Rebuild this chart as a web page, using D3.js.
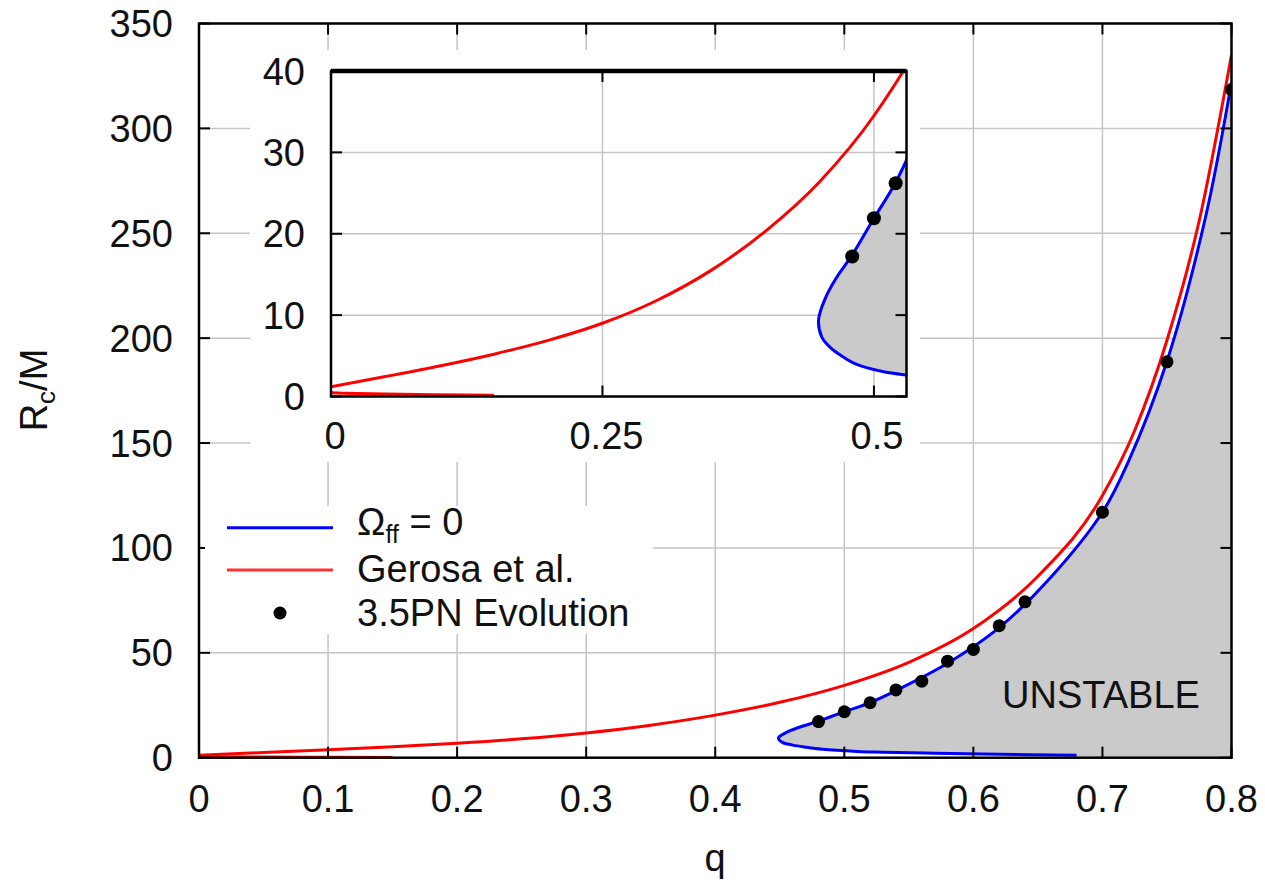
<!DOCTYPE html>
<html>
<head>
<meta charset="utf-8">
<script src="https://cdn.jsdelivr.net/npm/d3@7"></script>
<style>
  body { margin: 0; background: #fff; }
  text { font-family: "Liberation Sans", Arial, sans-serif; fill: #111; }
</style>
</head>
<body>
<div id="canvas"></div>
<script>
"use strict"

// Gerosa et al. curve
let gerosaQ = [0, 0.05, 0.1, 0.15, 0.2, 0.25, 0.3, 0.35, 0.4, 0.45, 0.5, 0.55, 0.6, 0.65, 0.7, 0.725, 0.75, 0.775, 0.8]
let gerosaR = [1.2, 2.45, 3.75, 5.2, 6.9, 9.0, 11.8, 15.5, 20.3, 26.4, 34.5, 45.5, 61.6, 86.5, 125, 156, 199, 256, 335]
// small lower branch of the Gerosa curve seen near zero
let gerosaLowQ = [0, 0.05, 0.1, 0.15]
let gerosaLowR = [0.45, 0.3, 0.2, 0.15]
// Omega_ff = 0 curve (upper branch, nose, lower branch)
let omegaQ = [0.8, 0.78, 0.75, 0.72, 0.7, 0.66, 0.62, 0.58, 0.54, 0.52, 0.5, 0.48, 0.465, 0.455, 0.449, 0.452, 0.46, 0.47, 0.483, 0.51, 0.53, 0.57, 0.62, 0.68]
let omegaR = [322, 258, 189, 141, 117, 86, 62, 45, 32, 26.3, 21.9, 17.4, 14.5, 12, 9.4, 7.3, 6, 5, 4, 3, 2.65, 2.1, 1.6, 1.2]
// 3.5PN evolution points
let pnQ = [0.48, 0.5, 0.52, 0.54, 0.56, 0.58, 0.6, 0.62, 0.64, 0.7, 0.75, 0.8]
let pnR = [17.2, 21.9, 26.2, 32.3, 36.5, 46, 51.6, 62.9, 74.3, 117, 188.7, 318.5]

let xTicks = [0, 0.1, 0.2, 0.3, 0.4, 0.5, 0.6, 0.7, 0.8]
let yTicks = [0, 50, 100, 150, 200, 250, 300, 350]
let insetXTicks = [0, 0.25, 0.5]
let insetYTicks = [0, 10, 20, 30, 40]

let svgWidth = 1265
let svgHeight = 882

let drawing = d3.select("#canvas")
    .append("svg")
    .attr("width", svgWidth)
    .attr("height", svgHeight)

drawing.append("rect")
    .attr("width", svgWidth)
    .attr("height", svgHeight)
    .attr("fill", "white")

let x = d3.scaleLinear().domain([0, 0.8]).range([199, 1231.5])
let y = d3.scaleLinear().domain([0, 350]).range([757.7, 23.5])
let ix = d3.scaleLinear().domain([0, 0.53]).range([331, 906.5])
let iy = d3.scaleLinear().domain([0, 40]).range([396.5, 71])

let gerosa = gerosaQ.map((q, i) => [q, gerosaR[i]])
let gerosaLow = gerosaLowQ.map((q, i) => [q, gerosaLowR[i]])
let omega = omegaQ.map((q, i) => [q, omegaR[i]])
let pn = pnQ.map((q, i) => [q, pnR[i]])

let defs = drawing.append("defs")
defs.append("clipPath").attr("id", "mainClip")
    .append("rect")
    .attr("x", x(0)).attr("y", y(350))
    .attr("width", x(0.8) - x(0)).attr("height", y(0) - y(350))
defs.append("clipPath").attr("id", "insetClip")
    .append("rect")
    .attr("x", ix(0)).attr("y", iy(40))
    .attr("width", ix(0.53) - ix(0)).attr("height", iy(0) - iy(40))

function drawPanel(g, sx, sy, xt, yt, clipId, dotR) {
    let x0 = sx.range()[0], x1 = sx.range()[1]
    let y0 = sy.range()[0], y1 = sy.range()[1]
    // grid
    g.selectAll(".vgrid").data(xt).join("line")
        .attr("x1", d => sx(d)).attr("x2", d => sx(d))
        .attr("y1", y0).attr("y2", y1)
        .attr("stroke", "#c4c4c4").attr("stroke-width", 1.5)
    g.selectAll(".hgrid").data(yt).join("line")
        .attr("class", "hgrid")
        .attr("x1", x0).attr("x2", x1)
        .attr("y1", d => sy(d)).attr("y2", d => sy(d))
        .attr("stroke", "#c4c4c4").attr("stroke-width", 1.5)

    let plot = g.append("g").attr("clip-path", `url(#${clipId})`)
    let smooth = d3.line().x(d => sx(d[0])).y(d => sy(d[1])).curve(d3.curveCatmullRom)
    let mono = d3.line().x(d => sx(d[0])).y(d => sy(d[1])).curve(d3.curveMonotoneX)

    // unstable region: inside the omega curve, closed along the bottom to the right edge
    let last = omega[omega.length - 1]
    plot.append("path")
        .attr("d", smooth(omega) + "L" + sx(last[0]) + "," + sy(0) + "L" + sx(0.8) + "," + sy(0) + "Z")
        .attr("fill", "#cacaca")
        .attr("stroke", "none")

    plot.append("path")
        .attr("d", mono(gerosaLow))
        .attr("fill", "none").attr("stroke", "#ff0000").attr("stroke-width", 3)

    plot.append("path")
        .attr("d", mono(gerosa))
        .attr("fill", "none").attr("stroke", "#ff0000").attr("stroke-width", 3)

    plot.append("path")
        .attr("d", smooth(omega))
        .attr("fill", "none").attr("stroke", "#0000ff").attr("stroke-width", 3)

    plot.selectAll("circle").data(pn).join("circle")
        .attr("cx", d => sx(d[0])).attr("cy", d => sy(d[1]))
        .attr("r", dotR).attr("fill", "black")

    // mirrored inward ticks
    let tl = 11
    xt.forEach(d => {
        g.append("line").attr("x1", sx(d)).attr("x2", sx(d)).attr("y1", y0).attr("y2", y0 - tl)
            .attr("stroke", "black").attr("stroke-width", 2)
        g.append("line").attr("x1", sx(d)).attr("x2", sx(d)).attr("y1", y1).attr("y2", y1 + tl)
            .attr("stroke", "black").attr("stroke-width", 2)
    })
    yt.forEach(d => {
        g.append("line").attr("x1", x0).attr("x2", x0 + tl).attr("y1", sy(d)).attr("y2", sy(d))
            .attr("stroke", "black").attr("stroke-width", 2)
        g.append("line").attr("x1", x1).attr("x2", x1 - tl).attr("y1", sy(d)).attr("y2", sy(d))
            .attr("stroke", "black").attr("stroke-width", 2)
    })

    g.append("rect")
        .attr("x", x0).attr("y", y1)
        .attr("width", x1 - x0).attr("height", y0 - y1)
        .attr("fill", "none").attr("stroke", "black").attr("stroke-width", 2.5)
}

// main panel
let mainG = drawing.append("g")
drawPanel(mainG, x, y, xTicks, yTicks, "mainClip", 6.5)

mainG.append("text")
    .attr("x", 1101).attr("y", 708)
    .attr("text-anchor", "middle")
    .attr("font-size", 38)
    .text("UNSTABLE")

mainG.selectAll(".xlab").data(xTicks).join("text")
    .attr("x", d => x(d)).attr("y", 812)
    .attr("text-anchor", "middle").attr("font-size", 38)
    .text(d => d3.format("")(d))
mainG.selectAll(".ylab").data(yTicks).join("text")
    .attr("class", "ylab")
    .attr("x", 173).attr("y", d => y(d) + 13.5)
    .attr("text-anchor", "end").attr("font-size", 38)
    .text(d => d)

drawing.append("text")
    .attr("x", 715).attr("y", 871)
    .attr("text-anchor", "middle").attr("font-size", 38)
    .text("q")

let yLabel = drawing.append("text")
    .attr("transform", "translate(47,390) rotate(-90)")
    .attr("text-anchor", "middle").attr("font-size", 38)
yLabel.append("tspan").text("R")
yLabel.append("tspan").attr("font-size", 26).attr("dy", 8).text("c")
yLabel.append("tspan").attr("dy", -8).text("/M")

// inset panel
let insetG = drawing.append("g")
insetG.append("rect")
    .attr("x", 250).attr("y", 50)
    .attr("width", 670).attr("height", 412)
    .attr("fill", "white")
drawPanel(insetG, ix, iy, insetXTicks, insetYTicks, "insetClip", 7)
insetG.append("line")
    .attr("x1", ix(0)).attr("x2", ix(0.53))
    .attr("y1", iy(40)).attr("y2", iy(40))
    .attr("stroke", "black").attr("stroke-width", 4.5)

insetG.selectAll(".ixlab").data(insetXTicks).join("text")
    .attr("x", d => ix(d) + (d === 0.5 ? 3 : 4)).attr("y", 449)
    .attr("text-anchor", "middle").attr("font-size", 38)
    .text(d => d3.format("")(d))
insetG.selectAll(".iylab").data(insetYTicks).join("text")
    .attr("class", "iylab")
    .attr("x", 305).attr("y", d => iy(d) + 13.5)
    .attr("text-anchor", "end").attr("font-size", 38)
    .text(d => d)

// legend
let legend = drawing.append("g")
legend.append("rect")
    .attr("x", 205).attr("y", 506)
    .attr("width", 448).attr("height", 128)
    .attr("fill", "white")
legend.append("line")
    .attr("x1", 227).attr("x2", 333).attr("y1", 527.7).attr("y2", 527.7)
    .attr("stroke", "#0000ff").attr("stroke-width", 3)
legend.append("line")
    .attr("x1", 227).attr("x2", 333).attr("y1", 570).attr("y2", 570)
    .attr("stroke", "#ff3333").attr("stroke-width", 3)
legend.append("circle")
    .attr("cx", 280).attr("cy", 613).attr("r", 6.5).attr("fill", "black")

let l1 = legend.append("text").attr("x", 357).attr("y", 535).attr("font-size", 38)
l1.append("tspan").text("Ω")
l1.append("tspan").attr("font-size", 25).attr("dy", 8).text("ff")
l1.append("tspan").attr("dy", -8).text(" = 0")
legend.append("text").attr("x", 357).attr("y", 582).attr("font-size", 38).text("Gerosa et al.")
legend.append("text").attr("x", 357).attr("y", 626).attr("font-size", 38).text("3.5PN Evolution")
</script>
</body>
</html>
